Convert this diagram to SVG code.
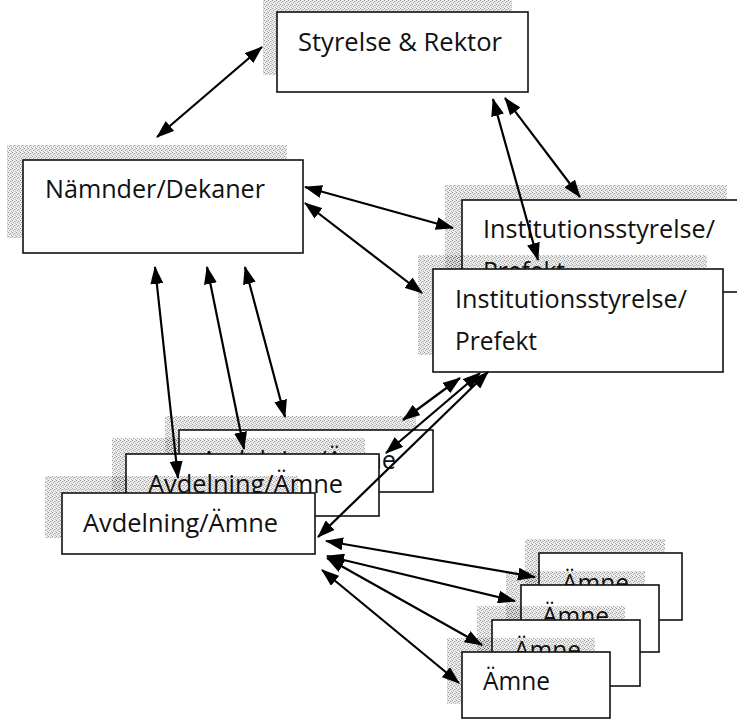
<svg xmlns="http://www.w3.org/2000/svg" width="737" height="720" viewBox="0 0 737 720">
  <style>
    .box { fill: #ffffff; stroke: #111111; stroke-width: 1.6; }
    .shade { fill: url(#grain); }
    .lbl { font-family: "Open Sans", "Noto Sans", "Liberation Sans", sans-serif; font-size: 26px; fill: #111111; }
    .link { stroke: #000000; stroke-width: 2.2; fill: none; marker-start: url(#head); marker-end: url(#head); }
  </style>
  <defs>
    <!-- light, see-through stipple used for the soft halo behind each box -->
    <pattern id="grain" width="4" height="4" patternUnits="userSpaceOnUse">
      <rect width="4" height="4" fill="#000000" fill-opacity="0.07"/>
      <rect x="0" y="0" width="1" height="1" fill="#000000" fill-opacity="0.35"/>
      <rect x="2" y="1" width="1" height="1" fill="#000000" fill-opacity="0.28"/>
      <rect x="1" y="2" width="1" height="1" fill="#000000" fill-opacity="0.32"/>
      <rect x="3" y="3" width="1" height="1" fill="#000000" fill-opacity="0.25"/>
      <rect x="3" y="1" width="1" height="1" fill="#000000" fill-opacity="0.15"/>
    </pattern>
    <marker id="head" markerUnits="userSpaceOnUse" viewBox="0 0 18 13" refX="17" refY="6.5" markerWidth="18" markerHeight="13" orient="auto-start-reverse">
      <path d="M0,0 L18,6.5 L0,13 Z" fill="#000000"/>
    </marker>
  </defs>

  <rect width="737" height="720" fill="#ffffff"/>

  <g id="styrelse-rektor">
    <rect class="shade" x="263" y="0" width="249" height="75"/>
    <rect class="box" x="277" y="12" width="251" height="80"/>
    <text class="lbl" x="298" y="51" textLength="204" lengthAdjust="spacingAndGlyphs">Styrelse &amp; Rektor</text>
  </g>

  <g id="namnder-dekaner">
    <rect class="shade" x="7" y="145" width="280" height="93"/>
    <rect class="box" x="23" y="160" width="280" height="93"/>
    <text class="lbl" x="45" y="198" textLength="220" lengthAdjust="spacingAndGlyphs">Nämnder/Dekaner</text>
  </g>

  <g id="institution-back">
    <rect class="shade" x="445" y="185" width="282" height="85"/>
    <rect class="box" x="462" y="200" width="300" height="92"/>
    <text class="lbl" x="483" y="238" textLength="232" lengthAdjust="spacingAndGlyphs">Institutionsstyrelse/</text>
    <text class="lbl" x="483" y="280" textLength="82" lengthAdjust="spacingAndGlyphs">Prefekt</text>
  </g>

  <g id="institution-front">
    <rect class="shade" x="418" y="255" width="289" height="100"/>
    <rect class="box" x="433" y="269" width="290" height="103"/>
    <text class="lbl" x="455" y="308" textLength="232" lengthAdjust="spacingAndGlyphs">Institutionsstyrelse/</text>
    <text class="lbl" x="455" y="350" textLength="82" lengthAdjust="spacingAndGlyphs">Prefekt</text>
  </g>

  <g id="avdelning-back">
    <rect class="shade" x="165" y="416" width="251" height="62"/>
    <rect class="box" x="179" y="430" width="254" height="62"/>
    <text class="lbl" x="201" y="469" textLength="195" lengthAdjust="spacingAndGlyphs">Avdelning/Ämne</text>
  </g>

  <g id="avdelning-middle">
    <rect class="shade" x="112" y="438" width="253" height="62"/>
    <rect class="box" x="126" y="454" width="253" height="62"/>
    <text class="lbl" x="148" y="493" textLength="195" lengthAdjust="spacingAndGlyphs">Avdelning/Ämne</text>
  </g>

  <g id="avdelning-front">
    <rect class="shade" x="45" y="476" width="253" height="62"/>
    <rect class="box" x="62" y="493" width="253" height="61"/>
    <text class="lbl" x="83" y="532" textLength="195" lengthAdjust="spacingAndGlyphs">Avdelning/Ämne</text>
  </g>

  <g id="amne-1">
    <rect class="shade" x="525" y="539" width="140" height="66"/>
    <rect class="box" x="539" y="553" width="143" height="67"/>
    <text class="lbl" x="562" y="592" textLength="67" lengthAdjust="spacingAndGlyphs">Ämne</text>
  </g>

  <g id="amne-2">
    <rect class="shade" x="506" y="571" width="139" height="66"/>
    <rect class="box" x="521" y="585" width="138" height="67"/>
    <text class="lbl" x="542" y="625" textLength="67" lengthAdjust="spacingAndGlyphs">Ämne</text>
  </g>

  <g id="amne-3">
    <rect class="shade" x="477" y="606" width="148" height="66"/>
    <rect class="box" x="492" y="620" width="148" height="66"/>
    <text class="lbl" x="514" y="659" textLength="67" lengthAdjust="spacingAndGlyphs">Ämne</text>
  </g>

  <g id="amne-4">
    <rect class="shade" x="447" y="638" width="148" height="66"/>
    <rect class="box" x="462" y="652" width="148" height="66"/>
    <text class="lbl" x="483" y="690" textLength="67" lengthAdjust="spacingAndGlyphs">Ämne</text>
  </g>

  <!-- two-way connectors -->
  <g id="connectors">
    <line class="link" x1="157" y1="137" x2="262" y2="47"/>
    <line class="link" x1="538" y1="260" x2="493" y2="99"/>
    <line class="link" x1="580" y1="197" x2="505" y2="98"/>
    <line class="link" x1="453" y1="228" x2="305" y2="187"/>
    <line class="link" x1="422" y1="293" x2="305" y2="203"/>
    <line class="link" x1="178" y1="478" x2="155" y2="267"/>
    <line class="link" x1="244" y1="449" x2="207" y2="267"/>
    <line class="link" x1="285" y1="417" x2="245" y2="267"/>
    <line class="link" x1="403" y1="420" x2="460" y2="378"/>
    <line class="link" x1="386" y1="453" x2="480" y2="373"/>
    <line class="link" x1="318" y1="537" x2="488" y2="372"/>
    <line class="link" x1="326" y1="541" x2="535" y2="577"/>
    <line class="link" x1="327" y1="556" x2="515" y2="601"/>
    <line class="link" x1="327" y1="558" x2="482" y2="645"/>
    <line class="link" x1="322" y1="570" x2="459" y2="683"/>
  </g>
</svg>
